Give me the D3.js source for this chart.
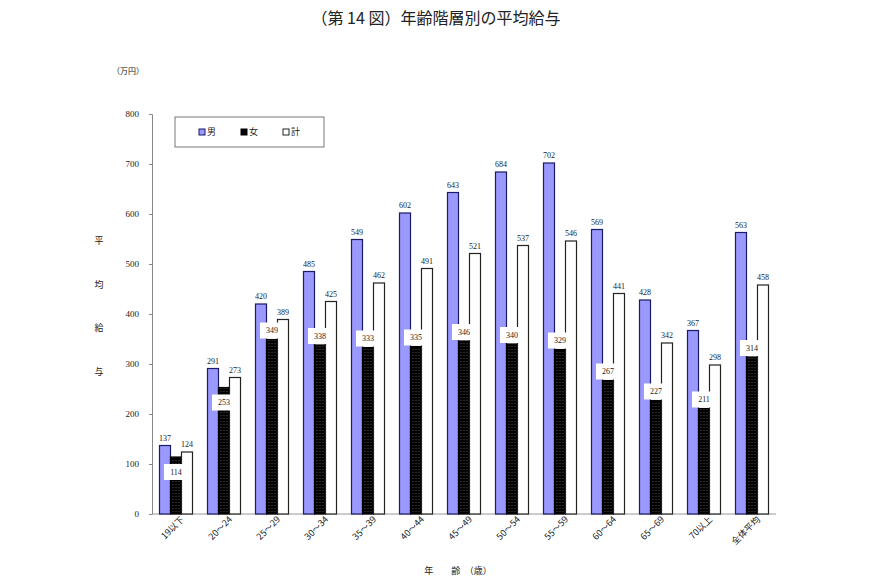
<!DOCTYPE html>
<html>
<head>
<meta charset="utf-8">
<script src="https://cdn.jsdelivr.net/npm/d3@7"></script>
<style>
  body { margin: 0; background: #fff; }
  text { font-family: "Liberation Serif", "Noto Sans CJK JP", serif; fill: #222; }
  .cjk { font-family: "Noto Sans CJK JP", sans-serif; }
</style>
</head>
<body>
<svg width="870" height="580"></svg>
<script>
const categories = ["19以下", "20～24", "25～29", "30～34", "35～39", "40～44", "45～49",
  "50～54", "55～59", "60～64", "65～69", "70以上", "全体平均"];
const male   = [137, 291, 420, 485, 549, 602, 643, 684, 702, 569, 428, 367, 563];
const female = [114, 253, 349, 338, 333, 335, 346, 340, 329, 267, 227, 211, 314];
const total  = [124, 273, 389, 425, 462, 491, 521, 537, 546, 441, 342, 298, 458];
const seriesNames = ["男", "女", "計"];
const yTicks = [0, 100, 200, 300, 400, 500, 600, 700, 800];

const svg = d3.select("svg");

// dotted fill for the female bars
const defs = svg.append("defs");
const pat = defs.append("pattern")
  .attr("id", "dots")
  .attr("width", 3).attr("height", 3)
  .attr("patternUnits", "userSpaceOnUse");
pat.append("rect").attr("width", 3).attr("height", 3).attr("fill", "#000");
pat.append("rect").attr("x", 1).attr("y", 1).attr("width", 1).attr("height", 1).attr("fill", "#555");

const plotL = 152, plotR = 776, plotT = 114, plotB = 514;

const x = d3.scaleBand()
  .domain(categories)
  .range([plotL, plotR])
  .paddingInner(0.3125)
  .paddingOuter(0.15625);

const xs = d3.scaleBand()
  .domain([0, 1, 2])
  .range([0, x.bandwidth()]);

const y = d3.scaleLinear()
  .domain([0, 800])
  .range([plotB, plotT]);

// title
svg.append("text")
  .attr("x", 436).attr("y", 24)
  .attr("text-anchor", "middle")
  .style("font-size", "16px")
  .attr("class", "cjk")
  .text("（第 14 図）年齢階層別の平均給与");

svg.append("text")
  .attr("class", "cjk")
  .attr("x", 128).attr("y", 74)
  .attr("text-anchor", "middle")
  .style("font-size", "8px")
  .text("（万円）");

// y axis
const yAxis = svg.append("g")
  .attr("transform", "translate(" + plotL + ",0)")
  .call(d3.axisLeft(y).tickValues(yTicks).tickSize(3).tickPadding(10));
yAxis.select(".domain").attr("stroke", "#888");
yAxis.selectAll(".tick line").attr("stroke", "#888");
yAxis.selectAll(".tick text")
  .style("font-family", "Liberation Serif, serif")
  .style("font-size", "9px")
  .attr("fill", "#222");

// x axis
const xAxis = svg.append("g")
  .attr("transform", "translate(0," + plotB + ")")
  .call(d3.axisBottom(x).tickSize(0).tickPadding(6));
xAxis.select(".domain").attr("stroke", "#999").attr("d", "M" + plotL + ",0H" + plotR);
xAxis.selectAll(".tick text")
  .attr("class", "cjk")
  .style("font-size", "9px")
  .attr("fill", "#222")
  .attr("text-anchor", "end")
  .attr("dx", "2")
  .attr("dy", "0.5em")
  .attr("transform", "rotate(-45)");

// y axis title, written vertically
["平", "均", "給", "与"].forEach((c, i) => {
  svg.append("text")
    .attr("class", "cjk")
    .attr("x", 99).attr("y", 244 + i * 43.5)
    .attr("text-anchor", "middle")
    .style("font-size", "9px")
    .text(c);
});

// x axis title
svg.append("text")
  .attr("class", "cjk")
  .attr("x", 458).attr("y", 574)
  .attr("text-anchor", "middle")
  .style("font-size", "9px")
  .attr("xml:space", "preserve")
  .text("年　　齢　（歳）");

// bars
const series = [male, female, total];
const fills = ["#9999ff", "url(#dots)", "#ffffff"];
const strokes = ["#1a1a66", "#000", "#222"];

const groups = svg.selectAll(".grp")
  .data(categories)
  .enter().append("g")
  .attr("class", "grp")
  .attr("transform", d => "translate(" + x(d) + ",0)");

series.forEach((vals, s) => {
  groups.append("rect")
    .attr("x", xs(s))
    .attr("y", (d, i) => y(vals[i]))
    .attr("width", xs.bandwidth())
    .attr("height", (d, i) => plotB - y(vals[i]))
    .attr("fill", fills[s])
    .attr("stroke", strokes[s])
    .attr("stroke-width", 1.2);
});

// value labels for male and total, above the bars
[0, 2].forEach(s => {
  groups.append("text")
    .attr("x", xs(s) + xs.bandwidth() / 2)
    .attr("y", (d, i) => y(series[s][i]) - 5)
    .attr("text-anchor", "middle")
    .style("font-size", "8px")
    .text((d, i) => series[s][i]);
});

// female labels sit in white boxes; moved into the bar when too close to the total bar
const fLab = groups.append("g")
  .attr("transform", (d, i) => {
    const cy = (total[i] - female[i] < 30) ? y(female[i]) + 15 : y(female[i]) - 9;
    return "translate(" + (xs(1) + xs.bandwidth() / 2) + "," + cy + ")";
  });
fLab.append("rect")
  .attr("x", -12).attr("y", -8)
  .attr("width", 24).attr("height", 16)
  .attr("fill", "#fff");
fLab.append("text")
  .attr("text-anchor", "middle")
  .attr("dy", "0.35em")
  .style("font-size", "8px")
  .text((d, i) => female[i]);

// legend
const lg = svg.append("g").attr("transform", "translate(175,117)");
lg.append("rect")
  .attr("width", 149).attr("height", 30)
  .attr("fill", "#fff").attr("stroke", "#555").attr("stroke-width", 0.8);
seriesNames.forEach((n, i) => {
  const g = lg.append("g").attr("transform", "translate(" + (27 + i * 42) + ",15)");
  g.append("rect")
    .attr("x", -3).attr("y", -3).attr("width", 6).attr("height", 6)
    .attr("fill", fills[i] === "url(#dots)" ? "#000" : fills[i])
    .attr("stroke", strokes[i]);
  g.append("text")
    .attr("class", "cjk")
    .attr("x", 5).attr("dy", "0.35em")
    .style("font-size", "9px")
    .text(n);
});
</script>
</body>
</html>
